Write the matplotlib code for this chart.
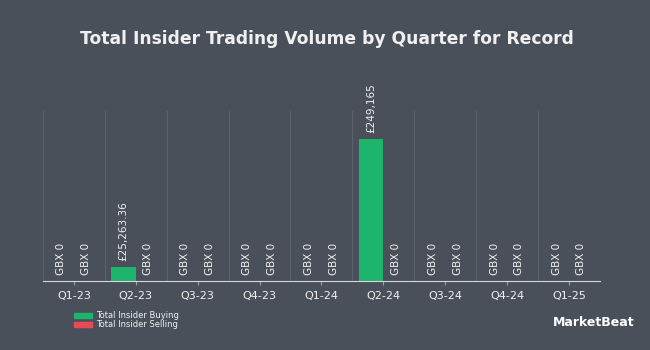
import numpy as np
import matplotlib.pyplot as plt

quarters = ["Q1-23", "Q2-23", "Q3-23", "Q4-23", "Q1-24", "Q2-24", "Q3-24", "Q4-24", "Q1-25"]
buying = [0, 25263.36, 0, 0, 0, 249165, 0, 0, 0]
selling = [0, 0, 0, 0, 0, 0, 0, 0, 0]
buy_labels = ["GBX 0", "£25,263.36", "GBX 0", "GBX 0", "GBX 0", "£249,165", "GBX 0", "GBX 0", "GBX 0"]
sell_labels = ["GBX 0"] * 9

bg = "#4a505a"
green = "#1db46e"
red = "#e84b55"
txt = "#f0f0f0"

fig = plt.figure(figsize=(6.5, 3.5), dpi=100, facecolor=bg)
ax = fig.add_axes([0.066, 0.197, 0.857, 0.486], facecolor=bg)

x = np.arange(len(quarters))
w = 0.4
ax.bar(x - w / 2, buying, w, color=green)
ax.bar(x + w / 2, selling, w, color=red)

for i in range(len(quarters)):
    ax.annotate(buy_labels[i], (x[i] - w / 2, buying[i]), xytext=(0, 4),
                textcoords="offset points", rotation=90, ha="center", va="bottom",
                color=txt, fontsize=7.5)
    ax.annotate(sell_labels[i], (x[i] + w / 2, selling[i]), xytext=(0, 4),
                textcoords="offset points", rotation=90, ha="center", va="bottom",
                color=txt, fontsize=7.5)

ax.set_xlim(-0.5, len(quarters) - 0.5)
ax.set_ylim(0, 298000)
ax.set_xticks(x)
ax.set_xticklabels(quarters)
ax.set_yticks([])
for b in np.arange(-0.5, len(quarters), 1):
    ax.axvline(b, color="#5c626b", lw=0.8, zorder=0)
ax.tick_params(axis="x", colors="#9aa0a8", labelcolor=txt, labelsize=8, length=3, pad=4)
for s in ["top", "right", "left"]:
    ax.spines[s].set_visible(False)
ax.spines["bottom"].set_color("#d8d8d8")

fig.text(0.503, 0.89, "Total Insider Trading Volume by Quarter for Record", ha="center",
         va="center", color=txt, fontsize=12.3, fontweight="bold")

fig.patches.append(plt.Rectangle((74 / 650, 1 - 318 / 350), 18 / 650, 5 / 350,
                                 transform=fig.transFigure, color=green))
fig.patches.append(plt.Rectangle((74 / 650, 1 - 327 / 350), 18 / 650, 5 / 350,
                                 transform=fig.transFigure, color=red))
fig.text(96 / 650, 1 - 315.5 / 350, "Total Insider Buying", color=txt, fontsize=6, va="center")
fig.text(96 / 650, 1 - 324.5 / 350, "Total Insider Selling", color=txt, fontsize=6, va="center")

fig.text(635 / 650, 1 - 323 / 350, "MarketBeat", color="white", fontsize=9,
         fontweight="bold", ha="right", va="center")

fig.savefig("out.png", facecolor=bg)
